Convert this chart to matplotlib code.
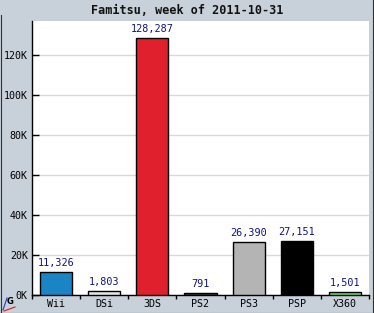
import matplotlib
matplotlib.use("Agg")
import matplotlib.pyplot as plt
from matplotlib.ticker import FuncFormatter, FixedLocator
from matplotlib.lines import Line2D

categories = ["Wii", "DSi", "3DS", "PS2", "PS3", "PSP", "X360"]
values = [11326, 1803, 128287, 791, 26390, 27151, 1501]
colors = ["#1a84c4", "#e6e6e6", "#e0202c", "#404040", "#b4b4b4", "#000000", "#5ee05e"]
title = "Famitsu, week of 2011-10-31"

W, H = 374, 313
fig = plt.figure(figsize=(W / 100, H / 100), dpi=100)
fig.patch.set_facecolor("#c8d0da")
ax = fig.add_axes([32 / W, (H - 295) / H, 337 / W, (295 - 21) / H])
ax.set_facecolor("white")

mono = "DejaVu Sans Mono"
x = list(range(len(categories)))
ax.bar(x, values, width=0.665, color=colors, edgecolor="black", linewidth=1.0, zorder=3)
ax.set_xlim(-0.5, len(categories) - 0.5)
ax.set_ylim(0, 137000)

for xi, v in zip(x, values):
    ax.annotate(f"{v:,}", (xi, v), xytext=(0, 3), textcoords="offset points",
                ha="center", va="bottom", color="#10108c", fontsize=7.3, family=mono, zorder=4)

ax.yaxis.set_major_locator(FixedLocator([0, 20000, 40000, 60000, 80000, 100000, 120000]))
ax.yaxis.set_major_formatter(FuncFormatter(lambda v, p: f"{int(v/1000)}K"))
ax.grid(axis="y", color="#d8d8d8", linewidth=1.0, zorder=0)
ax.tick_params(axis="y", direction="in", length=5, width=1, labelsize=7.2, pad=3, colors="black")
for lab in ax.get_yticklabels():
    lab.set_family(mono)

ax.set_xticks(x)
ax.set_xticklabels(categories, family=mono, fontsize=7.2)
ax.tick_params(axis="x", which="major", length=0, pad=3)
ax.set_xticks([i + 0.5 for i in range(-1, len(categories))], minor=True)
ax.tick_params(axis="x", which="minor", direction="out", length=3, width=1)

for s in ["top", "right"]:
    ax.spines[s].set_visible(False)
for s in ["left", "bottom"]:
    ax.spines[s].set_linewidth(1.0)
    ax.spines[s].set_color("black")

fig.text(0.5, 1 - 11 / H, title, ha="center", va="center", fontsize=8.5,
         fontweight="bold", family=mono, color="#111111")

def px(xp, yp):
    return xp / W, 1 - yp / H

border = "#303030"
for (x0, y0), (x1, y1) in [((372.5, 0), (372.5, 313)), ((0, 312.5), (374, 312.5)), ((0.5, 15), (0.5, 313))]:
    a, b = px(x0, y0)
    c, d = px(x1, y1)
    fig.add_artist(Line2D([a, c], [b, d], transform=fig.transFigure, color=border, linewidth=0.8))

# small logo in the bottom-left corner
a, b = px(3, 310)
c, d = px(7, 298)
fig.add_artist(Line2D([a, c], [b, d], transform=fig.transFigure, color="#2040c0", linewidth=0.8))
a, b = px(4, 311)
c, d = px(15, 307)
fig.add_artist(Line2D([a, c], [b, d], transform=fig.transFigure, color="#d02020", linewidth=0.8))
fig.text(10 / W, 1 - 302 / H, "G", ha="center", va="center", fontsize=6, fontweight="bold",
         family="DejaVu Sans", color="black")

fig.savefig("out.png", dpi=100, facecolor=fig.get_facecolor())
